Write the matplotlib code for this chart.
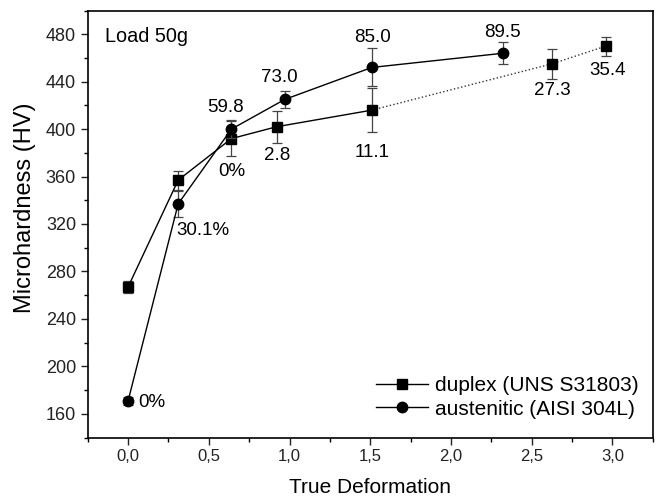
import matplotlib.pyplot as plt
from matplotlib.ticker import MultipleLocator, FuncFormatter

plt.rcParams['font.family'] = ['Liberation Sans', 'DejaVu Sans']

# duplex (UNS S31803)
dup_x = [0.0, 0.31, 0.64, 0.92, 1.51, 2.625, 2.96]
dup_hv = [267, 357, 392, 402, 416, 455, 470]
dup_err = [5, 8, 15, 13.5, 18.5, 12.5, 8]
dup_lbl = ['', '', '0%', '2.8', '11.1', '27.3', '35.4']

# austenitic (AISI 304L)
aus_x = [0.0, 0.31, 0.64, 0.97, 1.51, 2.325]
aus_hv = [171, 337, 400, 425, 452, 464]
aus_err = [3.5, 11, 7.5, 7.5, 16, 9.5]
aus_lbl = ['0%', '30.1%', '59.8', '73.0', '85.0', '89.5']

fig = plt.figure(figsize=(6.6, 5), dpi=100)
ax = fig.add_axes([0.133, 0.125, 0.856, 0.854])

ekw = dict(ecolor='#444444', elinewidth=0.9, capsize=3.5, capthick=0.9)

# duplex: solid up to 1.5, dotted afterwards
ax.errorbar(dup_x, dup_hv, yerr=dup_err, fmt='none', **ekw)
ax.plot(dup_x[:5], dup_hv[:5], '-', color='black', lw=1)
ax.plot(dup_x[4:], dup_hv[4:], ':', color='#333333', lw=1)
ax.plot(dup_x, dup_hv, 's', color='black', ms=6.5, ls='none')

ax.errorbar(aus_x, aus_hv, yerr=aus_err, fmt='none', **ekw)
ax.plot(aus_x, aus_hv, '-', color='black', lw=1)
ax.plot(aus_x, aus_hv, 'o', color='black', ms=7.5, ls='none')

# legend handles
ax.plot([], [], '-s', color='black', lw=1, ms=6.5, label='duplex (UNS S31803)')
ax.plot([], [], '-o', color='black', lw=1, ms=7.5, label='austenitic (AISI 304L)')
ax.legend(loc='lower right', frameon=False, fontsize=15, handlelength=2.5,
          handletextpad=0.3, labelspacing=0.22, borderaxespad=0.3,
          bbox_to_anchor=(1.0, 0.01))

fs = 13.5
# label offsets in pixels (dx, dy, ha)
dup_off = [None, None, (0, -33, 'center'), (0, -29, 'center'), (0, -42, 'center'),
           (0, -27, 'center'), (2, -24, 'center')]
aus_off = [(10, -2, 'left'), (-2, -27, 'left'), (-6, 22, 'center'), (-5, 22, 'center'),
           (1, 30, 'center'), (-1, 21, 'center')]

for x, y, t, o in zip(dup_x, dup_hv, dup_lbl, dup_off):
    if t:
        ax.annotate(t, (x, y), xytext=(o[0], o[1]), textcoords='offset pixels',
                    ha=o[2], va='center', fontsize=fs)
for x, y, t, o in zip(aus_x, aus_hv, aus_lbl, aus_off):
    ax.annotate(t, (x, y), xytext=(o[0], o[1]), textcoords='offset pixels',
                ha=o[2], va='center', fontsize=fs)

ax.text(0.030, 0.938, 'Load 50g', transform=ax.transAxes, ha='left', va='center', fontsize=14.3)

ax.set_xlim(-0.25, 3.25)
ax.set_ylim(140, 500)
ax.xaxis.set_major_locator(MultipleLocator(0.5))
ax.xaxis.set_minor_locator(MultipleLocator(0.25))
ax.yaxis.set_minor_locator(MultipleLocator(20))
ax.set_yticks(range(160, 481, 40))
ax.xaxis.set_major_formatter(FuncFormatter(lambda v, p: f'{v:.1f}'.replace('.', ',')))
ax.tick_params(which='major', direction='out', length=5, width=1, colors='#222222')
ax.tick_params(axis='x', labelsize=12)
ax.tick_params(axis='y', labelsize=13)
ax.tick_params(which='minor', direction='out', length=3, width=1)
ax.tick_params(top=False, right=False, which='both')
for s in ax.spines.values():
    s.set_linewidth(1.2)

ax.set_xlabel('True Deformation', fontsize=15)
ax.set_ylabel('Microhardness (HV)', fontsize=17)
ax.xaxis.set_label_coords(0.5, -0.094)
ax.yaxis.set_label_coords(-0.092, 0.539)

fig.savefig('out.png', dpi=100)
